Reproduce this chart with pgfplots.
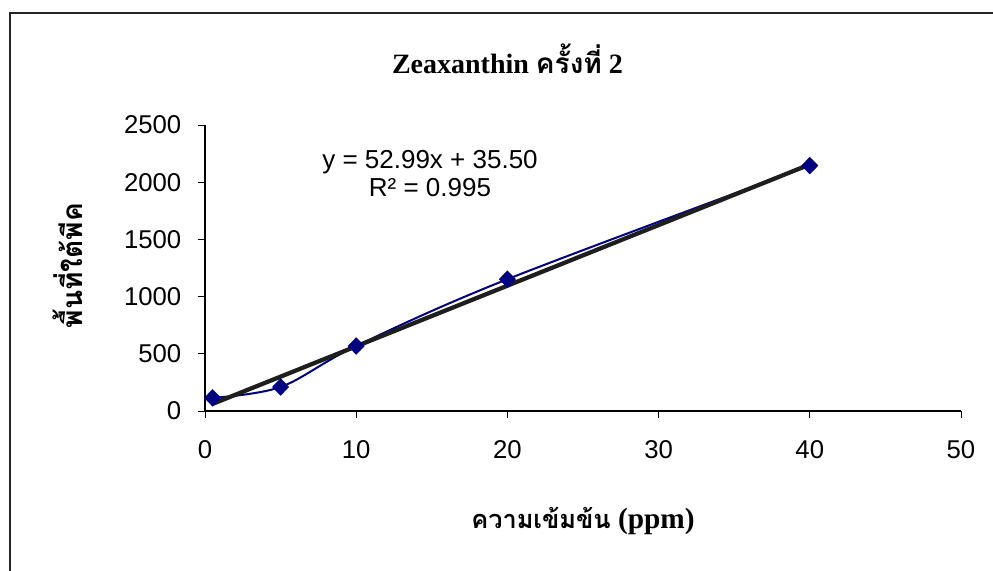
\documentclass[border=0pt]{standalone}
\usepackage{fontspec}
\usepackage{pgfplots}
\pgfplotsset{compat=1.18}
\setmainfont{Liberation Serif}
\newfontfamily\arial{Liberation Sans}
\newfontfamily\thaifont[Script=Thai]{Loma}
\definecolor{navy}{RGB}{0,0,128}
\definecolor{trend}{RGB}{30,30,30}
\begin{document}
\begin{tikzpicture}
\path[use as bounding box] (0,0) rectangle (744.75pt,428.25pt);
% frame
\draw[line width=1.5pt, black!85] (7.5pt,0pt) -- (7.5pt,418.5pt) -- (744.75pt,418.5pt);
\begin{axis}[
  at={(153.75pt,120pt)}, anchor=origin,
  scale only axis,
  width=567pt, height=214.5pt,
  xmin=0, xmax=50, ymin=0, ymax=2500,
  axis x line=bottom, axis y line=left,
  axis line style={-, black, line width=0.8pt},
  xtick={0,10,20,30,40,50},
  ytick={0,500,1000,1500,2000,2500},
  tick align=outside,
  major tick length=5.25pt,
  tick style={black, line width=0.6pt},
  /pgf/number format/assume math mode=true,
  /pgf/number format/1000 sep={},
  ticklabel style={font=\arial\fontsize{19.3}{22}\selectfont, text=black},
  yticklabel style={xshift=-9pt},
  xticklabel style={yshift=-13.5pt},
  clip=false,
]
\addplot[navy, line width=1.5pt, smooth, tension=0.55, mark=diamond*, mark size=5.5pt,
  mark options={xscale=1.3, fill=navy, draw=navy}]
  coordinates {(0.5,115) (5,210) (10,568) (20,1152) (40,2145)};
\addplot[trend, line width=3.2pt, no marks]
  coordinates {(0.5,62.0) (40,2155.1)};
\end{axis}
% title
\node[anchor=base, font=\bfseries\fontsize{21}{24}\selectfont] at (380.6pt,372.75pt)
  {Zeaxanthin {\thaifont ครั้งที่} 2};
% equation
\node[anchor=base, font=\arial\fontsize{19.5}{22}\selectfont] at (322.5pt,302pt) {y = 52.99x + 35.50};
\node[anchor=base, font=\arial\fontsize{19.5}{22}\selectfont] at (322.5pt,281pt) {R² = 0.995};
% x label
\node[anchor=base, font=\bfseries\fontsize{22}{25}\selectfont] at (437.25pt,32pt)
  {{\thaifont\fontsize{19}{25}\selectfont ความเข้มข้น} (ppm)};
% y label
\node[rotate=90, anchor=center, font=\bfseries\fontsize{21}{25}\selectfont] at (51pt,229pt)
  {\thaifont พื้นที่ใต้พีค};
\end{tikzpicture}
\end{document}
